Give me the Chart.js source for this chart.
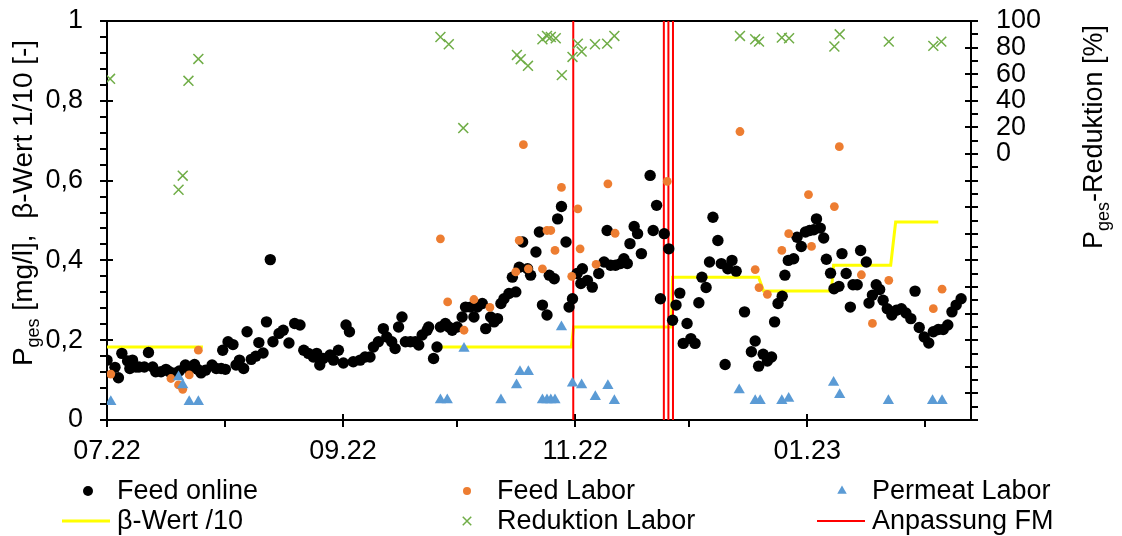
<!DOCTYPE html>
<html lang="de">
<head>
<meta charset="utf-8">
<title>Pges Feed / Permeat</title>
<script src="https://cdn.jsdelivr.net/npm/chart.js@4.4.1/dist/chart.umd.min.js"></script>
<style>
  html, body { margin: 0; padding: 0; background: #fff; }
  #wrap { width: 1122px; height: 536px; }
</style>
</head>
<body>
<div id="wrap"><canvas id="chart" width="1122" height="536"></canvas></div>
<script>
// --- DATA (x = Tage ab 01.07.2022) ---

// Achsenbeschriftung: Monatsanfänge
const MONTH_DAYS = [0, 31, 62, 92, 123, 153, 184, 215];
const TICK_DAYS = [0, 62, 123, 184];
const TICK_LABELS = ['07.22', '09.22', '11.22', '01.23'];
const X_MAX = 227;

// Feed online [mg/l]
const FEED_ONLINE_DAY = [
  0.0, 2.1, 3.0, 3.9, 5.4, 6.0, 6.7, 7.6, 8.4, 9.8, 10.9, 12.0, 12.8, 14.2, 15.5, 16.4, 17.7, 19.0,
  20.6, 21.5, 23.0, 23.8, 24.7, 25.9, 27.6, 28.7, 30.0, 30.4, 31.1, 31.8, 33.1, 33.9, 34.8, 35.9,
  36.8, 37.9, 39.1, 39.9, 41.0, 41.9, 42.9, 43.6, 45.2, 46.3, 47.8, 49.3, 50.7, 51.7, 52.9, 54.2,
  55.1, 55.9, 56.8, 58.6, 59.5, 60.8, 62.1, 62.8, 63.7, 64.7, 66.5, 67.8, 69.1, 70.0, 71.3, 72.6,
  73.5, 74.8, 75.7, 76.6, 77.5, 78.4, 79.7, 81.0, 81.9, 82.8, 84.1, 84.5, 85.8, 86.7, 87.6, 88.9,
  89.8, 90.7, 92.0, 93.3, 94.2, 95.5, 96.4, 97.3, 98.6, 99.5, 100.8, 101.7, 102.6, 103.5, 104.3,
  105.6, 106.5, 107.4, 108.3, 109.2, 110.5, 111.3, 112.7, 113.6, 114.4, 115.6, 116.2, 117.5, 118.4,
  119.4, 120.6, 121.4, 122.3, 123.5, 124.5, 124.9, 126.2, 127.5, 129.2, 130.6, 131.4, 132.3, 133.6,
  134.9, 135.8, 136.7, 137.4, 138.5, 139.4, 140.4, 142.7, 143.5, 144.4, 145.4, 146.4, 147.6, 148.6,
  149.5, 150.5, 151.4, 152.4, 153.4, 154.5, 155.5, 156.3, 157.4, 158.3, 159.2, 160.5, 161.4, 162.4,
  163.1, 164.2, 165.3, 167.5, 169.3, 170.3, 171.2, 172.4, 173.5, 174.6, 175.4, 176.3, 177.4, 178.1,
  179.0, 180.4, 181.3, 182.4, 183.5, 184.6, 185.7, 186.4, 187.4, 188.3, 189.0, 190.1, 191.0, 192.3,
  193.1, 194.2, 195.3, 196.0, 197.1, 198.0, 199.5, 200.2, 201.1, 202.1, 203.0, 203.9, 205.0, 206.2,
  207.4, 208.7, 209.9, 211.2, 212.3, 213.4, 214.7, 215.9, 217.1, 218.4, 219.7, 220.9, 222.0, 223.1,
  224.4
];
const FEED_ONLINE_VAL = [
  0.150, 0.132, 0.106, 0.167, 0.148, 0.129, 0.150, 0.133, 0.133, 0.133, 0.169, 0.133, 0.121, 0.121, 0.127, 0.121, 0.117, 0.123,
  0.138, 0.127, 0.139, 0.127, 0.118, 0.125, 0.138, 0.129, 0.129, 0.175, 0.127, 0.196, 0.189, 0.138, 0.150, 0.129,
  0.221, 0.152, 0.160, 0.194, 0.168, 0.246, 0.402, 0.196, 0.217, 0.225, 0.193, 0.242, 0.238, 0.175, 0.167, 0.158,
  0.167, 0.138, 0.154, 0.163, 0.150, 0.175, 0.143, 0.238, 0.221, 0.146, 0.150, 0.158, 0.158, 0.183, 0.196, 0.229,
  0.208, 0.196, 0.179, 0.233, 0.258, 0.196, 0.196, 0.196, 0.188, 0.213, 0.225, 0.233, 0.154, 0.183, 0.233, 0.242,
  0.233, 0.225, 0.233, 0.258, 0.283, 0.283, 0.258, 0.283, 0.292, 0.229, 0.258, 0.246, 0.254, 0.292, 0.304,
  0.317, 0.358, 0.321, 0.383, 0.446, 0.379, 0.363, 0.421, 0.471, 0.288, 0.263, 0.363, 0.354, 0.504,
  0.535, 0.446, 0.283, 0.304, 0.367, 0.342, 0.379, 0.350, 0.333, 0.367, 0.396, 0.475, 0.388, 0.388,
  0.392, 0.404, 0.392, 0.442, 0.485, 0.467, 0.417, 0.613, 0.475, 0.538, 0.304, 0.467, 0.429, 0.250,
  0.288, 0.318, 0.192, 0.242, 0.204, 0.192, 0.294, 0.358, 0.332, 0.396, 0.508, 0.450, 0.392, 0.139,
  0.379, 0.400, 0.373, 0.271, 0.171, 0.198, 0.135, 0.165, 0.148, 0.158, 0.246, 0.292, 0.310, 0.363,
  0.400, 0.404, 0.458, 0.435, 0.471, 0.475, 0.477, 0.504, 0.481, 0.456, 0.403, 0.368, 0.329, 0.335,
  0.417, 0.367, 0.283, 0.339, 0.339, 0.425, 0.396, 0.293, 0.313, 0.339, 0.327, 0.300, 0.279, 0.263,
  0.275, 0.279, 0.268, 0.254, 0.323, 0.232, 0.208, 0.193, 0.221, 0.227, 0.227, 0.238, 0.271, 0.288,
  0.304
];

// Feed Labor [mg/l]
const FEED_LAB_DAY = [
  1.0, 16.8, 18.8, 19.9, 21.6, 24.0, 87.6, 89.5, 93.8, 96.4, 100.6, 107.4, 108.3, 109.4, 110.7, 114.4,
  115.6, 116.6, 117.7, 119.4, 122.1, 123.7, 124.3, 128.5, 131.6, 133.5, 147.2, 166.3, 170.3, 171.3,
  173.5, 177.3, 179.1, 184.3, 185.1, 191.1, 192.4, 198.2, 201.1, 205.4, 217.1, 219.4
];
const FEED_LAB_VAL = [
  0.115, 0.104, 0.088, 0.077, 0.113, 0.175, 0.454, 0.296, 0.225, 0.302, 0.282, 0.371, 0.450, 0.690, 0.379, 0.379,
  0.475, 0.475, 0.425, 0.583, 0.360, 0.529, 0.429, 0.390, 0.592, 0.468, 0.598, 0.723, 0.377, 0.332,
  0.315, 0.425, 0.467, 0.565, 0.435, 0.535, 0.685, 0.364, 0.242, 0.350, 0.279, 0.328
];

// Permeat Labor [mg/l]
const PERMEAT_DAY = [
  1.0, 18.8, 19.9, 21.6, 24.0, 87.6, 89.4, 93.8, 103.5, 107.6, 108.5, 110.7, 114.4, 115.6, 116.6, 117.7,
  119.4, 122.3, 124.7, 128.3, 131.6, 133.3, 166.1, 170.3, 171.6, 177.3, 179.1, 190.9, 192.5, 205.3,
  216.9, 219.4
];
const PERMEAT_VAL = [
  0.046, 0.108, 0.088, 0.046, 0.046, 0.050, 0.050, 0.179, 0.050, 0.088, 0.121, 0.121, 0.050, 0.050, 0.050, 0.050,
  0.233, 0.092, 0.088, 0.058, 0.086, 0.048, 0.075, 0.048, 0.048, 0.048, 0.054, 0.094, 0.063, 0.048,
  0.048, 0.048
];

// β-Wert / 10 (null = keine Werte)
const BETA_DAY = [0, 25.2, 25.3, 88.0, 122.0, 122.6, 148.3, 148.6, 171.2, 172.5, 190.3, 190.9, 205.9, 207.2, 218.4];
const BETA_VAL = [0.183, 0.183, null, 0.183, 0.183, 0.233, 0.233, 0.358, 0.358, 0.323, 0.323, 0.388, 0.388, 0.496, 0.496];

// Pges-Reduktion Labor [%]
const REDUCTION_DAY = [
  0.8, 18.8, 19.9, 21.4, 24.0, 87.6, 89.8, 93.6, 107.7, 108.7, 110.6, 114.4, 115.6, 116.6, 117.9, 119.5,
  122.3, 123.7, 124.7, 128.2, 131.4, 133.3, 166.3, 170.3, 171.3, 177.3, 179.2, 191.1, 192.5, 205.4,
  217.1, 219.2
];
const REDUCTION_VAL = [
  56.5, -26.9, -16.3, 55.0, 71.5, 88.0, 82.5, 19.5, 74.5, 71.3, 66.3, 86.3, 88.8, 88.0, 87.0, 59.3,
  73.0, 83.0, 77.0, 82.5, 83.0, 88.8, 88.8, 86.3, 84.5, 87.5, 87.0, 80.8, 90.0, 84.5,
  81.3, 84.5
];

// Anpassung Fällmittel (Tage)
const FM_DAYS = [122.5, 146.3, 147.5, 148.7];

// --- HELPERS ---

const FONT_FAMILY = '"Liberation Sans", Arial, sans-serif';
const FONT_SIZE = 27;
const TEXT_COLOR = '#000';

function pairs(xs, ys) {
  return xs.map((x, i) => ({ x: x, y: ys[i] }));
}

function fmDataset(days) {
  const pts = [];
  days.forEach(d => {
    pts.push({ x: d, y: 0 }, { x: d, y: 1 }, { x: d, y: null });
  });
  return pts;
}

function drawMarker(ctx, style, color, r, x, y) {
  ctx.save();
  ctx.fillStyle = color;
  ctx.strokeStyle = color;
  ctx.beginPath();
  if (style === 'circle') {
    ctx.arc(x, y, r, 0, Math.PI * 2);
    ctx.fill();
  } else if (style === 'triangle') {
    ctx.moveTo(x, y - r);
    ctx.lineTo(x + r * 0.866, y + r * 0.5);
    ctx.lineTo(x - r * 0.866, y + r * 0.5);
    ctx.closePath();
    ctx.fill();
  } else if (style === 'crossRot') {
    const o = r * 0.707;
    ctx.lineWidth = 1.5;
    ctx.moveTo(x - o, y - o); ctx.lineTo(x + o, y + o);
    ctx.moveTo(x - o, y + o); ctx.lineTo(x + o, y - o);
    ctx.stroke();
  }
  ctx.restore();
}

// rotated axis title with subscript "ges"
function drawPgesTitle(ctx, cx, cy, rest, size) {
  const big = size + 'px ' + FONT_FAMILY;
  const small = Math.round(size * 0.66) + 'px ' + FONT_FAMILY;
  ctx.save();
  ctx.translate(cx, cy);
  ctx.rotate(-Math.PI / 2);
  ctx.fillStyle = TEXT_COLOR;
  ctx.textBaseline = 'alphabetic';
  ctx.font = big;
  const wP = ctx.measureText('P').width;
  const wR = ctx.measureText(rest).width;
  ctx.font = small;
  const wS = ctx.measureText('ges').width;
  const x0 = -(wP + wS + wR) / 2;
  ctx.font = big;
  ctx.fillText('P', x0, 9);
  ctx.font = small;
  ctx.fillText('ges', x0 + wP, 16);
  ctx.font = big;
  ctx.fillText(rest, x0 + wP + wS, 9);
  ctx.restore();
}

// vertical axes: no extra room for half-height labels above/below the plot
function fixVertical(width) {
  return axis => {
    axis.width = width;
    axis.paddingTop = 0;
    axis.paddingBottom = 0;
  };
}

// --- PLUGINS ---

// tick marks (major crossing the axis, minor outside) and the top frame line
const axisDecor = {
  id: 'axisDecor',
  beforeDatasetsDraw(chart) {
    const { ctx, chartArea: a, scales } = chart;
    const sx = scales.x, sy = scales.y, sy2 = scales.y2;
    ctx.save();
    ctx.strokeStyle = '#000';
    ctx.lineWidth = 2;
    const line = (x1, y1, x2, y2) => {
      ctx.beginPath(); ctx.moveTo(x1, y1); ctx.lineTo(x2, y2); ctx.stroke();
    };
    // frame top
    line(a.left - 1, a.top, a.right + 1, a.top);

    MONTH_DAYS.forEach(d => {
      const px = Math.round(sx.getPixelForValue(d));
      if (TICK_DAYS.includes(d)) line(px, a.bottom - 6, px, a.bottom + 7);
      else line(px, a.bottom, px, a.bottom + 7);
    });
    for (let i = 0; i <= 25; i++) {
      const py = Math.round(sy.getPixelForValue(i * 0.04));
      if (i % 5 === 0) line(a.left - 7, py, a.left + 6, py);
      else line(a.left - 7, py, a.left, py);
    }
    for (let i = 0; i <= 30; i++) {
      const py = Math.round(sy2.getPixelForValue(-200 + i * 10));
      if (i % 2 === 0) line(a.right - 6, py, a.right + 7, py);
      else line(a.right, py, a.right + 7, py);
    }
    ctx.restore();
  }
};

const LEGEND_LAYOUT = [
  { index: 0, mx: 88, tx: 117, y: 491 },
  { index: 1, mx: 467, tx: 497, y: 491 },
  { index: 2, mx: 842, tx: 872, y: 491 },
  { index: 3, tx: 117, y: 521, line: [62, 110] },
  { index: 4, mx: 467, tx: 497, y: 521 },
  { index: 5, tx: 872, y: 521, line: [817, 865] }
];

const titlesAndLegend = {
  id: 'titlesAndLegend',
  afterDraw(chart) {
    const { ctx } = chart;
    drawPgesTitle(ctx, 23, 203, ' [mg/l],  \u03b2-Wert 1/10 [-]', 28);
    drawPgesTitle(ctx, 1093, 137, '-Reduktion [%]', 27);

    ctx.save();
    ctx.font = FONT_SIZE + 'px ' + FONT_FAMILY;
    ctx.fillStyle = TEXT_COLOR;
    ctx.textBaseline = 'middle';
    LEGEND_LAYOUT.forEach(item => {
      const ds = chart.data.datasets[item.index];
      if (item.line) {
        ctx.save();
        ctx.strokeStyle = ds.borderColor;
        ctx.lineWidth = ds.borderWidth;
        ctx.beginPath();
        ctx.moveTo(item.line[0], item.y);
        ctx.lineTo(item.line[1], item.y);
        ctx.stroke();
        ctx.restore();
      } else {
        drawMarker(ctx, ds.pointStyle, ds.backgroundColor, ds.legendRadius, item.mx, item.y);
      }
      ctx.fillText(ds.label, item.tx, item.y + 1);
    });
    ctx.restore();
  }
};

// --- CHART ---

const tickFont = { family: FONT_FAMILY, size: FONT_SIZE };

new Chart(document.getElementById('chart'), {
  type: 'scatter',
  data: {
    datasets: [
      {
        label: 'Feed online',
        data: pairs(FEED_ONLINE_DAY, FEED_ONLINE_VAL),
        yAxisID: 'y',
        pointStyle: 'circle',
        backgroundColor: '#000000',
        borderColor: '#000000',
        borderWidth: 0,
        pointRadius: 5.7,
        legendRadius: 5,
        order: 3
      },
      {
        label: 'Feed Labor',
        data: pairs(FEED_LAB_DAY, FEED_LAB_VAL),
        yAxisID: 'y',
        pointStyle: 'circle',
        backgroundColor: '#ED7D31',
        borderColor: '#ED7D31',
        borderWidth: 0,
        pointRadius: 4.4,
        legendRadius: 4,
        order: 2
      },
      {
        label: 'Permeat Labor',
        data: pairs(PERMEAT_DAY, PERMEAT_VAL),
        yAxisID: 'y',
        pointStyle: 'triangle',
        backgroundColor: '#5B9BD5',
        borderColor: '#5B9BD5',
        borderWidth: 0,
        pointRadius: 6.5,
        legendRadius: 5.5,
        order: 1
      },
      {
        label: '\u03b2-Wert /10',
        data: pairs(BETA_DAY, BETA_VAL),
        yAxisID: 'y',
        showLine: true,
        spanGaps: false,
        borderColor: '#FFFF00',
        borderWidth: 3,
        pointRadius: 0,
        order: 6
      },
      {
        label: 'Reduktion Labor',
        data: pairs(REDUCTION_DAY, REDUCTION_VAL),
        yAxisID: 'y2',
        pointStyle: 'crossRot',
        backgroundColor: '#70AD47',
        borderColor: '#70AD47',
        borderWidth: 1.5,
        pointRadius: 7,
        legendRadius: 6,
        order: 0
      },
      {
        label: 'Anpassung FM',
        data: fmDataset(FM_DAYS),
        yAxisID: 'y',
        showLine: true,
        spanGaps: false,
        borderColor: '#FF0000',
        borderWidth: 2,
        pointRadius: 0,
        order: 5
      }
    ]
  },
  options: {
    responsive: false,
    animation: false,
    events: [],
    layout: { autoPadding: false, padding: { top: 21, left: 0, right: 0, bottom: 0 } },
    plugins: {
      legend: { display: false },
      tooltip: { enabled: false }
    },
    scales: {
      x: {
        type: 'linear',
        min: 0,
        max: X_MAX,
        afterBuildTicks: axis => { axis.ticks = TICK_DAYS.map(v => ({ value: v })); },
        afterFit: axis => { axis.height = 116; },
        grid: { display: false, drawTicks: false },
        border: { display: true, color: '#000', width: 2 },
        ticks: {
          autoSkip: false,
          maxRotation: 0,
          padding: 15,
          color: TEXT_COLOR,
          font: tickFont,
          callback: v => TICK_LABELS[TICK_DAYS.indexOf(v)]
        }
      },
      y: {
        position: 'left',
        min: 0,
        max: 1,
        afterFit: fixVertical(107),
        grid: { display: false, drawTicks: false },
        border: { display: true, color: '#000', width: 2 },
        ticks: {
          stepSize: 0.2,
          autoSkip: false,
          padding: 24,
          color: TEXT_COLOR,
          font: tickFont,
          callback: v => String(Math.round(v * 10) / 10).replace('.', ',')
        }
      },
      y2: {
        position: 'right',
        min: -200,
        max: 100,
        afterFit: fixVertical(151),
        grid: { display: false, drawTicks: false },
        border: { display: true, color: '#000', width: 2 },
        ticks: {
          stepSize: 20,
          autoSkip: false,
          padding: 25,
          color: TEXT_COLOR,
          font: tickFont,
          callback: v => (v >= 0 ? String(v) : '')
        }
      }
    }
  },
  plugins: [axisDecor, titlesAndLegend]
});
</script>
</body>
</html>
